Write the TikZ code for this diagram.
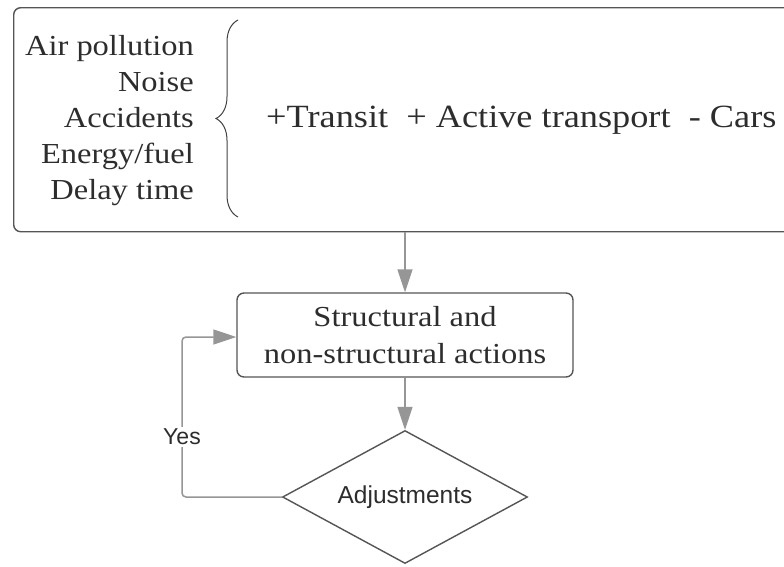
\documentclass[tikz,border=0pt]{standalone}
\usepackage{fontspec}
\setmainfont{Liberation Serif}[FakeStretch=1.12]
\setsansfont{Liberation Sans}
\usetikzlibrary{shapes.geometric,arrows.meta,decorations.pathreplacing}
\definecolor{boxline}{RGB}{85,85,85}
\definecolor{arrowgray}{RGB}{150,150,150}
\definecolor{txt}{RGB}{45,45,45}
\tikzset{
  boxstyle/.style={draw=boxline, line width=1.4pt, rounded corners=7pt, inner sep=0pt},
  flowarrow/.style={draw=arrowgray, line width=1.5pt, -{Triangle[length=23pt,width=15pt]}},
  serif/.style={text=txt, font=\rmfamily},
}
\begin{document}
\begin{tikzpicture}[x=1pt,y=-1pt]
\useasboundingbox (0,0) rectangle (784,566);
\fill[white] (0,0) rectangle (784,566);
\clip (0,0) rectangle (784,566);
% top box
\node[boxstyle, anchor=north west, minimum width=800pt, minimum height=224pt] (topbox) at (13,7) {};
\node[serif, anchor=east, align=right, inner sep=0pt,
      font=\fontsize{29}{36}\selectfont] (list) at (194,121)
  {Air pollution\\Noise\\Accidents\\Energy/fuel\\Delay time};
\coordinate (brb) at (238,217);
\coordinate (brt) at (238,20);
\draw[txt!90, line width=1pt, decorate, decoration={brace, amplitude=22pt}] (brb) -- (brt);
\node[serif, anchor=west, inner sep=0pt, font=\fontsize{32.4}{40}\selectfont] (main) at (266,120)
  {+Transit\ \ + Active transport\ \ - Cars};
% actions box
\node[boxstyle, minimum width=336pt, minimum height=84pt, align=center,
      text=txt, font=\fontsize{29}{37}\selectfont] (act) at (405,335)
  {Structural and\\non-structural actions};
% diamond
\node[draw=boxline, line width=1.4pt, diamond, shape aspect=1.84, minimum width=245pt, minimum height=133pt,
      inner sep=0pt, text=txt, font=\sffamily\fontsize{24.5}{28}\selectfont] (adj) at (405,497)
  {Adjustments};
% connectors
\draw[flowarrow] (topbox.south -| act.north) -- (act.north);
\draw[flowarrow] (act.south) -- (adj.north);
\coordinate (lp) at (182,337);
\draw[flowarrow, rounded corners=4pt] (adj.west) -| (lp) -- (act.west |- lp);
\node[fill=white, inner sep=2pt, text=txt, font=\sffamily\fontsize{23}{26}\selectfont] (yes) at (182,437) {Yes};
\end{tikzpicture}
\end{document}
